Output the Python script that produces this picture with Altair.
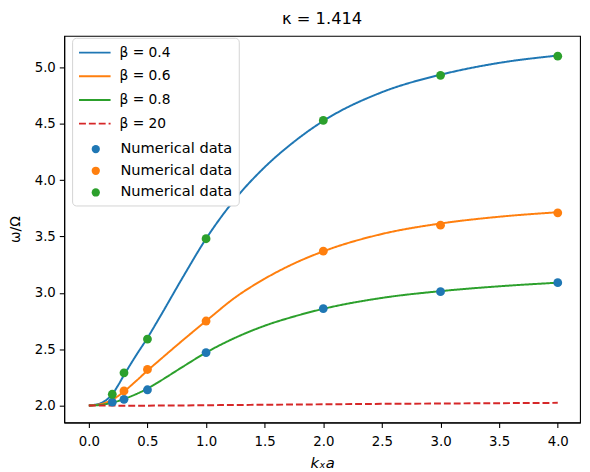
import altair as alt
import pandas as pd

# ---- data ----
kx_curve = [0, 0.1, 0.15, 0.2, 0.25, 0.3, 0.4, 0.5, 0.6, 0.8, 1.0, 1.25, 1.5, 1.75, 2.0, 2.5, 3.0, 3.5, 4.0]
beta04 = [2.0, 2.02, 2.05, 2.10, 2.18, 2.27, 2.44, 2.60, 2.775, 3.135, 3.48, 3.835, 4.115, 4.34, 4.525, 4.78, 4.935, 5.04, 5.105]
beta06 = [2.0, 2.012, 2.028, 2.05, 2.085, 2.125, 2.215, 2.31, 2.40, 2.578, 2.75, 2.96, 3.125, 3.26, 3.368, 3.522, 3.615, 3.675, 3.715]
beta08 = [2.0, 2.006, 2.014, 2.026, 2.04, 2.058, 2.10, 2.15, 2.212, 2.343, 2.47, 2.602, 2.708, 2.79, 2.858, 2.955, 3.015, 3.058, 3.09]
beta20 = [2.0, 2.0, 2.0, 2.0, 1.999, 1.999, 1.999, 1.999, 2.0, 2.001, 2.003, 2.005, 2.007, 2.009, 2.011, 2.015, 2.018, 2.021, 2.024]

kx_num = [0.2, 0.3, 0.5, 1.0, 2.0, 3.0, 4.0]
num_blue = [2.03, 2.055, 2.14, 2.47, 2.86, 3.01, 3.09]
kx_num_orange = [0.3, 0.5, 1.0, 2.0, 3.0, 4.0]
num_orange = [2.13, 2.32, 2.75, 3.37, 3.60, 3.71]
num_green = [2.10, 2.29, 2.59, 3.48, 4.53, 4.93, 5.10]

line_names = ["β = 0.4", "β = 0.6", "β = 0.8", "β = 20"]
line_colors = ["#1f77b4", "#ff7f0e", "#2ca02c", "#d62728"]
line_dashes = [[1, 0], [1, 0], [1, 0], [7, 3]]
num_names = ["Numerical data", "Numerical data ", "Numerical data  "]
num_colors = ["#1f77b4", "#ff7f0e", "#2ca02c"]

rows = []
for name, ys in zip(line_names, [beta04, beta06, beta08, beta20]):
    for x, y in zip(kx_curve, ys):
        rows.append({"kx": x, "w": y, "series": name})
lines_df = pd.DataFrame(rows)

prow = []
for name, xs, ys in zip(num_names, [kx_num, kx_num_orange, kx_num], [num_blue, num_orange, num_green]):
    for x, y in zip(xs, ys):
        prow.append({"kx": x, "w": y, "numeric": name})
pts_df = pd.DataFrame(prow)

FONT = "DejaVu Sans"

# legend for the curves (no frame, drawn on top)
legend_lines = alt.Legend(
    orient="none", legendX=14, legendY=0, title=None, direction="vertical",
    padding=0, labelFontSize=14, labelFont=FONT, labelColor="black",
    symbolSize=1024, symbolType="stroke", symbolStrokeWidth=2,
    rowPadding=0, labelOffset=8, zindex=2,
)
# legend for the numerical points, framed box that also encloses the curve entries
legend_pts = alt.Legend(
    orient="none", legendX=8, legendY=2, title=[" ", " ", " ", " "], direction="vertical",
    titleFontSize=13.5, titleLineHeight=23.3, titlePadding=16, titleFont=FONT,
    fillColor="white", strokeColor="#d3d3d3", cornerRadius=4, padding=6,
    labelFontSize=14.8, labelFont=FONT, labelColor="black",
    symbolSize=70, symbolType="circle", symbolOffset=10.6, labelOffset=17.6,
    rowPadding=6, zindex=1,
)

stroke = alt.Stroke("series:N", scale=alt.Scale(domain=line_names, range=line_colors), legend=legend_lines)
dash = alt.StrokeDash("series:N", scale=alt.Scale(domain=line_names, range=line_dashes), legend=legend_lines)
fill = alt.Fill("numeric:N", scale=alt.Scale(domain=num_names, range=num_colors), legend=legend_pts)

x = alt.X("kx:Q", scale=alt.Scale(domain=[-0.21, 4.19], nice=False, zero=False),
          axis=alt.Axis(values=[0, 0.5, 1.0, 1.5, 2.0, 2.5, 3.0, 3.5, 4.0], format=".1f",
                        title="kₓa", titleFontStyle="italic", titlePadding=8,
                        titleFontSize=15, labelPadding=7))
y = alt.Y("w:Q", scale=alt.Scale(domain=[1.85, 5.28], nice=False, zero=False),
          axis=alt.Axis(values=[2.0, 2.5, 3.0, 3.5, 4.0, 4.5, 5.0], format=".1f",
                        title="ω/Ω", titlePadding=12, labelPadding=4))

lines = alt.Chart(lines_df).mark_line(strokeWidth=2, interpolate="monotone").encode(
    x=x, y=y, stroke=stroke, strokeDash=dash
)
points = alt.Chart(pts_df).mark_circle(size=80, opacity=1).encode(x=x, y=y, fill=fill)

chart = alt.layer(lines, points).properties(
    width=523, height=392,
    title=alt.TitleParams("κ = 1.414", fontSize=16.5, fontWeight="normal", font=FONT,
                          color="black", offset=9),
    autosize=alt.AutoSizeParams(type="none"),
    padding={"left": 57, "top": 25, "right": 2, "bottom": 47},
).configure_view(
    stroke="black", strokeWidth=1.1
).configure_axis(
    grid=False, labelFont=FONT, titleFont=FONT, labelFontSize=13.5, titleFontSize=14,
    labelColor="black", titleColor="black", titleFontWeight="normal",
    domainColor="black", tickColor="black", tickSize=5,
    domainWidth=1.1, tickWidth=1.1
)

chart.save("out.html", embed_options={"renderer": "svg", "actions": False})
